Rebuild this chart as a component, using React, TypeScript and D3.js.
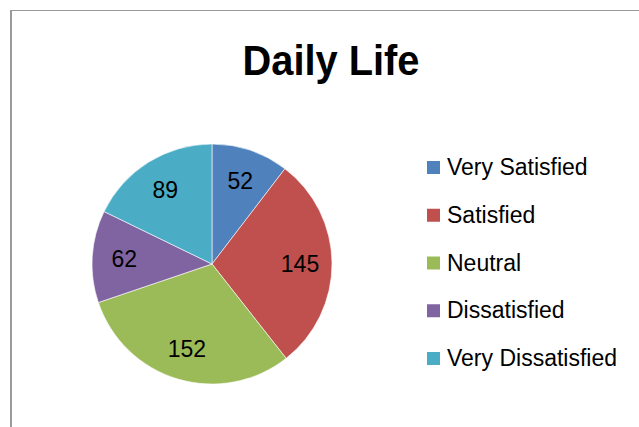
import React from "react";
import * as d3 from "d3";

const categories = ["Very Satisfied", "Satisfied", "Neutral", "Dissatisfied", "Very Dissatisfied"];
const values = [52, 145, 152, 62, 89];
const colors = ["#4F81BD", "#C0504D", "#9BBB59", "#8064A2", "#4BACC6"];
const title = "Daily Life";

const W = 639;
const H = 427;

export default function App() {
  const cx = 212;
  const cy = 264;
  const R = 120;
  const pie = d3.pie<number>().sort(null).startAngle(0).endAngle(2 * Math.PI);
  const arcs = pie(values);
  const arcGen = d3.arc<d3.PieArcDatum<number>>().innerRadius(0).outerRadius(R);
  const labelArc = d3.arc<d3.PieArcDatum<number>>().innerRadius(176).outerRadius(0);
  const legendY = d3.scaleLinear().domain([0, categories.length - 1]).range([175, 366]);

  return (
    <svg
      width={W}
      height={H}
      style={{ position: "absolute", left: 0, top: 0, background: "#fff" }}
      fontFamily="'Liberation Sans', Arial, sans-serif"
    >
      <rect x={0} y={0} width={W} height={H} fill="#fff" />
      <line x1={11} y1={10.5} x2={639} y2={10.5} stroke="#9a9a9a" strokeWidth={1} />
      <line x1={11} y1={10} x2={11} y2={427} stroke="#9a9a9a" strokeWidth={2} />
      <text
        x={331}
        y={75}
        textAnchor="middle"
        fontSize={42}
        fontWeight="bold"
        fill="#000"
        textLength={177}
        lengthAdjust="spacingAndGlyphs"
      >
        {title}
      </text>
      <g transform={`translate(${cx},${cy})`}>
        {arcs.map((a, i) => (
          <path key={i} d={arcGen(a) || ""} fill={colors[i]} stroke="#ffffff" strokeWidth={0.6} />
        ))}
        {arcs.map((a, i) => {
          const [x, y] = labelArc.centroid(a);
          return (
            <text key={i} x={x} y={y} dy="0.36em" textAnchor="middle" fontSize={23} fill="#000">
              {values[i]}
            </text>
          );
        })}
      </g>
      <g>
        {categories.map((c, i) => (
          <g key={c}>
            <rect x={427} y={legendY(i) - 14} width={13} height={13} fill={colors[i]} />
            <text x={447} y={legendY(i)} fontSize={23} fill="#000">
              {c}
            </text>
          </g>
        ))}
      </g>
    </svg>
  );
}
